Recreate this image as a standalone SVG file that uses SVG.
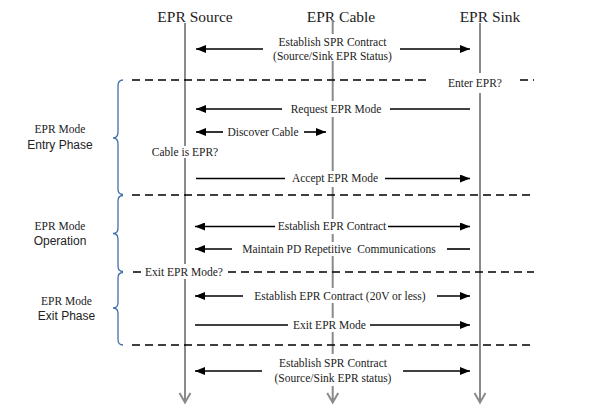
<svg xmlns="http://www.w3.org/2000/svg" width="590" height="418" viewBox="0 0 590 418">
<style>
.life{stroke:#8a8a8a;stroke-width:2;fill:none}
.msg{stroke:#000;stroke-width:1.6;fill:none}
.dash{stroke:#000;stroke-width:1.5;stroke-dasharray:8 5;fill:none}
.brace{stroke:#3f6fae;stroke-width:1.3;fill:none}
.t{font-family:"Liberation Serif",serif;font-size:11.5px;fill:#222;text-anchor:middle}
.h{font-family:"Liberation Serif",serif;font-size:15.5px;fill:#222;text-anchor:middle}
.s{font-family:"Liberation Sans",sans-serif;font-size:12px;fill:#222;text-anchor:middle}
.bg{fill:#fff}
</style>
<defs>
<marker id="ah" viewBox="0 0 10 8" refX="10" refY="4" markerWidth="10" markerHeight="8" markerUnits="userSpaceOnUse" orient="auto">
<path d="M0,0 L10,4 L0,8 Z" fill="#000"/>
</marker>
</defs>
<rect width="590" height="418" fill="#fff"/>
<g id="lifelines">
<g id="source"><text class="h" x="195" y="22">EPR Source</text><path class="life" d="M185,23 V402 M179.5,393 L185,402.5 L190.5,393"/></g>
<g id="cable"><text class="h" x="341" y="22">EPR Cable</text><path class="life" d="M332.7,20 V402 M327.2,393 L332.7,402.5 L338.2,393"/></g>
<g id="sink"><text class="h" x="490" y="22">EPR Sink</text><path class="life" d="M480,23 V402 M474.5,393 L480,402.5 L485.5,393"/></g>
</g>
<g id="phases">
<g id="entry"><path class="brace" d="M123,80 Q118,80 118,86 V132 Q118,138 113,138 Q118,138 118,144 V189 Q118,194.5 123,194.5"/><text class="t" x="60" y="133">EPR Mode</text><text class="s" x="60" y="148.5">Entry Phase</text></g>
<g id="operation"><path class="brace" d="M123,195.5 Q118,195.5 118,201 V228 Q118,233.5 113,233.5 Q118,233.5 118,239 V266 Q118,271.5 123,271.5"/><text class="t" x="60" y="230">EPR Mode</text><text class="s" x="60" y="245">Operation</text></g>
<g id="exit"><path class="brace" d="M123,272.5 Q118,272.5 118,278 V302.5 Q118,308 113,308 Q118,308 118,313.5 V339.5 Q118,345 123,345"/><text class="t" x="66.5" y="304.5">EPR Mode</text><text class="s" x="66.5" y="320">Exit Phase</text></g>
</g>
<g id="connectors">
<rect class="bg" x="268" y="34" width="129" height="27"/>
<path class="msg" d="M263,49 H196" marker-end="url(#ah)"/>
<path class="msg" d="M400,49 H470" marker-end="url(#ah)"/>
<text class="t" x="332.5" y="46">Establish SPR Contract</text>
<text class="t" x="332.5" y="60">(Source/Sink EPR Status)</text>
<path class="dash" d="M132,80 H428 M520,80 H534"/>
<rect class="bg" x="448" y="73" width="54" height="20"/>
<text class="t" x="475" y="87">Enter EPR?</text>
<rect class="bg" x="286" y="101" width="100" height="16"/>
<path class="msg" d="M282,109 H196" marker-end="url(#ah)"/>
<path class="msg" d="M470,109 H390"/>
<text class="t" x="336" y="112.5">Request EPR Mode</text>
<path class="msg" d="M223,132 H196" marker-end="url(#ah)"/>
<path class="msg" d="M304,132 H326" marker-end="url(#ah)"/>
<text class="t" x="263" y="135.5">Discover Cable</text>
<rect class="bg" x="150" y="146" width="70" height="12"/>
<text class="t" x="185" y="155.5">Cable is EPR?</text>
<rect class="bg" x="289" y="171" width="92" height="16"/>
<path class="msg" d="M196,178.5 H285"/>
<path class="msg" d="M385,178.5 H470" marker-end="url(#ah)"/>
<text class="t" x="335" y="182">Accept EPR Mode</text>
<path class="dash" d="M132,195 H534"/>
<rect class="bg" x="279" y="219" width="106" height="15"/>
<path class="msg" d="M275,226.5 H195" marker-end="url(#ah)"/>
<path class="msg" d="M388,226.5 H470" marker-end="url(#ah)"/>
<text class="t" x="332" y="230">Establish EPR Contract</text>
<rect class="bg" x="236" y="242" width="207" height="14"/>
<path class="msg" d="M232,249 H195" marker-end="url(#ah)"/>
<path class="msg" d="M447,249 H470"/>
<text class="t" x="339" y="252.5" xml:space="preserve">Maintain PD Repetitive  Communications</text>
<path class="dash" d="M133,272 H141 M228,272 H534"/>
<rect class="bg" x="146" y="264" width="76" height="15"/>
<text class="t" x="184" y="275.5">Exit EPR Mode?</text>
<rect class="bg" x="246" y="288" width="188" height="15"/>
<path class="msg" d="M243,296 H195" marker-end="url(#ah)"/>
<path class="msg" d="M437,296 H470" marker-end="url(#ah)"/>
<text class="t" x="340" y="299.5">Establish EPR Contract (20V or less)</text>
<rect class="bg" x="291" y="318" width="75" height="14"/>
<path class="msg" d="M195,325 H288"/>
<path class="msg" d="M370,325 H470" marker-end="url(#ah)"/>
<text class="t" x="329.5" y="328.5">Exit EPR Mode</text>
<path class="dash" d="M132,345 H534"/>
<rect class="bg" x="268" y="354" width="130" height="32"/>
<path class="msg" d="M262,371 H195" marker-end="url(#ah)"/>
<path class="msg" d="M403,371 H470" marker-end="url(#ah)"/>
<text class="t" x="333" y="366.5">Establish SPR Contract</text>
<text class="t" x="333" y="382">(Source/Sink EPR status)</text>
</g>
</svg>
